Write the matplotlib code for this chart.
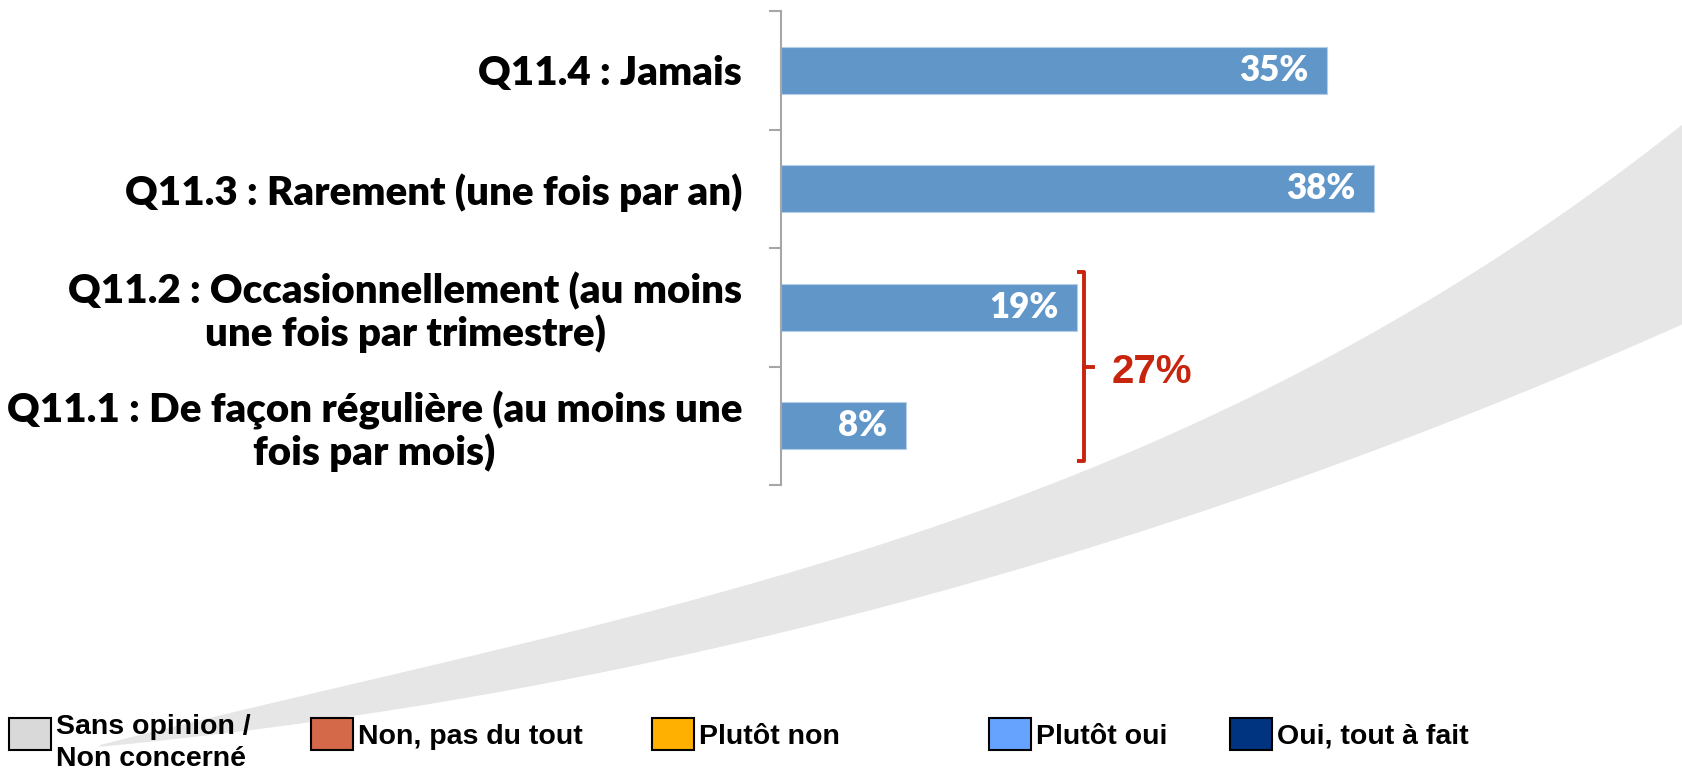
import matplotlib
matplotlib.use("Agg")
import matplotlib.pyplot as plt
from matplotlib.patches import Rectangle
import numpy as np

# ── data ───────────────────────────────────────────────────────────────────
categories = [
    "Q11.1 : De façon régulière (au moins une\nfois par mois)",
    "Q11.2 : Occasionnellement (au moins\nune fois par trimestre)",
    "Q11.3 : Rarement (une fois par an)",
    "Q11.4 : Jamais",
]
values = [8, 19, 38, 35]
bracket_idx = [0, 1]          # Q11.1 + Q11.2 grouped

legend_labels = ["Sans opinion /\nNon concerné", "Non, pas du tout", "Plutôt non",
                 "Plutôt oui", "Oui, tout à fait"]
legend_colors = ["#D9D9D9", "#D4694A", "#FFB000", "#66A3FF", "#003380"]

# ── style ──────────────────────────────────────────────────────────────────
W, H = 1682, 772
BAR = "#6096C8"
RED = "#C8250F"
LABEL_FONT = ["Lato", "DejaVu Sans"]
LEG_FONT = ["Liberation Sans", "DejaVu Sans"]

fig = plt.figure(figsize=(W / 100, H / 100), dpi=100)
fig.patch.set_facecolor("white")

# background swoosh (decoration, pixel coords measured from bottom)
bg = fig.add_axes([0, 0, 1, 1], zorder=0)
bg.set_xlim(0, W)
bg.set_ylim(0, H)
bg.axis("off")
up_x = [115, 230, 344, 459, 574, 689, 804, 912, 1025, 1137, 1250, 1362, 1475, 1587, 1682]
up_h = [32, 62, 85, 112, 139, 169, 202, 245, 285, 325, 375, 432, 495, 572, 655]
lo_x = [98, 230, 344, 459, 574, 689, 804, 900, 1025, 1137, 1250, 1362, 1475, 1587, 1682]
lo_h = [22, 42, 59, 75, 95, 119, 142, 165, 205, 242, 279, 319, 362, 409, 445]
xs = np.linspace(98, W, 600)
upper = np.polyval(np.polyfit(up_x, up_h, 3), xs)
lower = np.polyval(np.polyfit(lo_x, lo_h, 3), xs)
upper[0] = lower[0]
bg.fill_between(xs, lower, np.maximum(upper, lower), color="#E6E6E6", lw=0)

# ── bars ───────────────────────────────────────────────────────────────────
ax = fig.add_axes([781 / W, 287 / H, 901 / W, 474 / H], zorder=1)
ax.patch.set_alpha(0)
y = np.arange(len(categories))
ax.barh(y, values, height=0.4, color=BAR, edgecolor="#B4CDE8", lw=0.8)
ax.set_xlim(0, 57.75)
ax.set_ylim(-0.5, len(categories) - 0.5)

for s in ["top", "right", "bottom"]:
    ax.spines[s].set_visible(False)
ax.spines["left"].set_color("#A6A6A6")
ax.spines["left"].set_linewidth(1.5)
ax.set_xticks([])
ax.set_yticks(np.arange(len(categories) + 1) - 0.5)
ax.set_yticklabels([])
ax.tick_params(axis="y", which="major", length=8.5, width=1.5, color="#A6A6A6")
ax.set_yticks(y, categories, minor=True)
ax.tick_params(axis="y", which="minor", length=0, pad=28)
for t in ax.get_yticklabels(minor=True):
    t.set_fontfamily(LABEL_FONT)
    t.set_fontweight("heavy")
    t.set_fontsize(29)
    t.set_multialignment("center")
    t.set_linespacing(1.12)

for yi, v in zip(y, values):
    ax.text(v - 1.2, yi, f"{v}%", ha="right", va="center", color="white",
            fontsize=25, fontweight="heavy", family=LABEL_FONT)

# bracket around the grouped bars
bx = max(values[i] for i in bracket_idx) + 0.4
y0 = min(bracket_idx) - 0.3
y1 = max(bracket_idx) + 0.3
ym = (y0 + y1) / 2
ax.plot([bx - 0.45, bx, bx, bx - 0.45], [y1, y1, y0, y0], color=RED, lw=2.8,
        solid_joinstyle="round", solid_capstyle="butt", clip_on=False)
ax.plot([bx, bx + 0.6], [ym, ym], color=RED, lw=2.8, clip_on=False)
total = sum(values[i] for i in bracket_idx)
ax.text(bx + 1.8, ym - 0.05, f"{total}%", ha="left", va="center", color=RED,
        fontsize=29, fontweight="bold", family=["Liberation Sans", "DejaVu Sans"])

# ── legend (custom, pixel coords) ──────────────────────────────────────────
box_x = [9, 311, 652, 989, 1230]
for bx_, lab, col in zip(box_x, legend_labels, legend_colors):
    bg.add_patch(Rectangle((bx_, H - 750), 42, 32, facecolor=col,
                           edgecolor="black", lw=1.5, zorder=3))
    ty = H - 743 if "\n" in lab else H - 737
    bg.text(bx_ + 47, ty, lab, ha="left", va="center", fontsize=20.5,
            fontweight="bold", family=LEG_FONT, linespacing=1.35, zorder=3)

fig.savefig("out.png", dpi=100, facecolor="white")
